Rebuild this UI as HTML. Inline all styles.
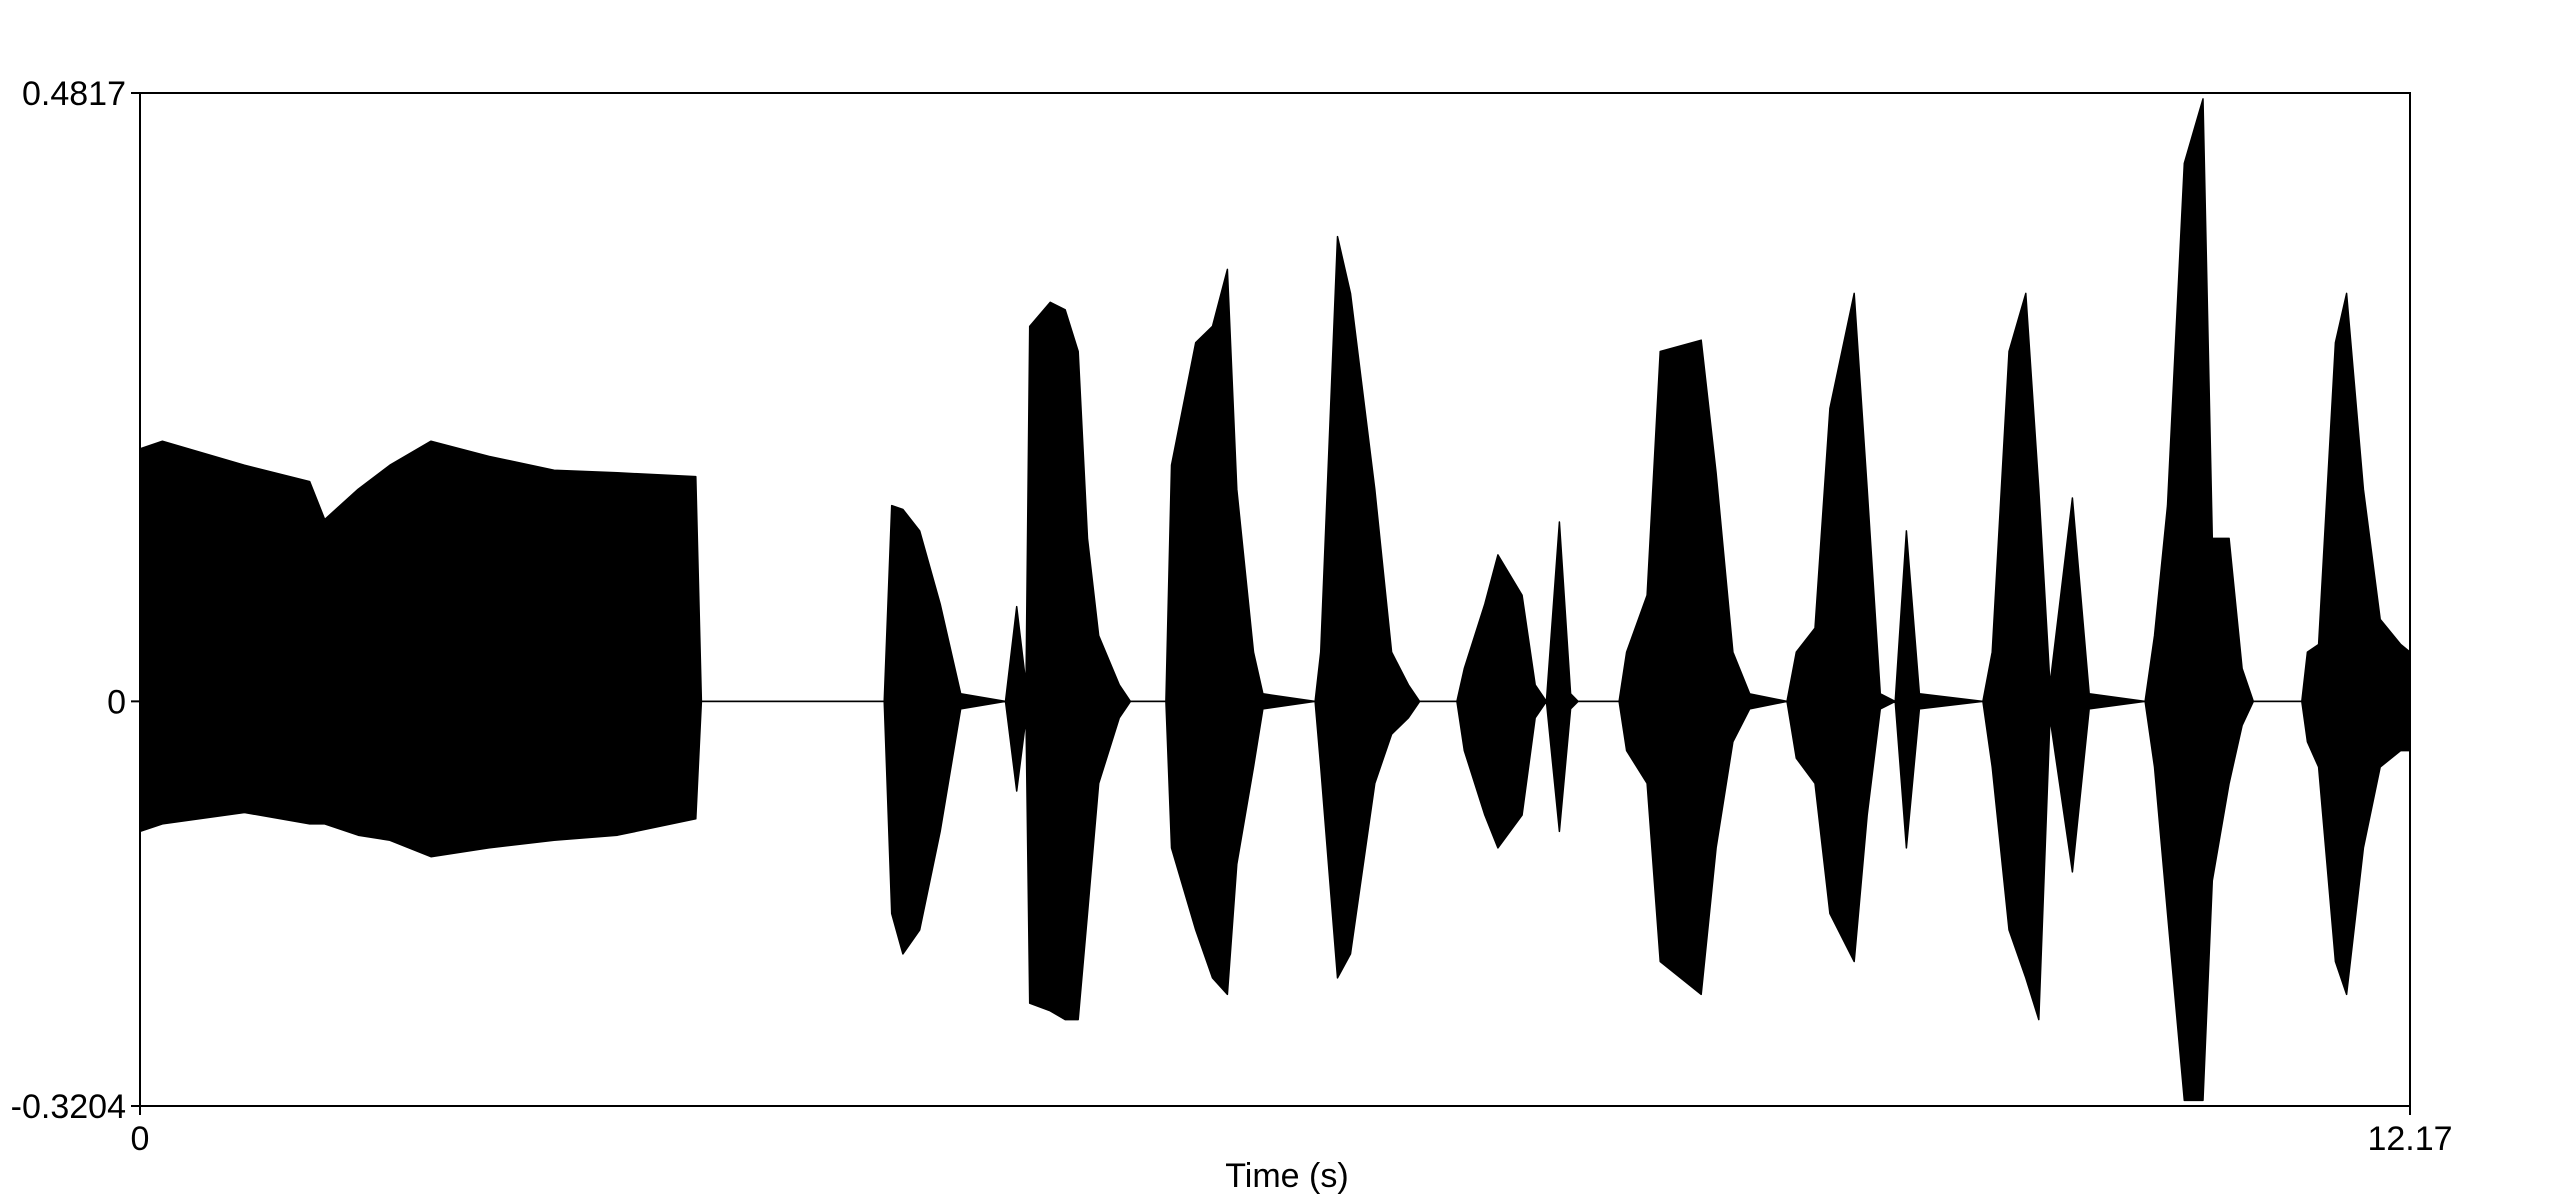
<!DOCTYPE html>
<html><head><meta charset="utf-8"><style>
html,body{margin:0;padding:0;background:#fff;}
svg{display:block;font-family:"Liberation Sans",Arial,sans-serif;}
</style></head><body>
<svg id="chart" width="2550" height="1200" xmlns="http://www.w3.org/2000/svg"></svg>
<script>
const times=[0,0.12,0.56,0.91,0.99,1.17,1.34,1.56,1.87,2.22,2.56,2.98,3.01,3.99,4.03,4.09,4.18,4.29,4.40,4.64,4.70,4.75,4.77,4.88,4.96,5.03,5.08,5.14,5.25,5.31,5.50,5.53,5.66,5.75,5.83,5.88,5.97,6.02,6.30,6.33,6.42,6.49,6.62,6.71,6.80,6.86,7.06,7.10,7.21,7.28,7.41,7.48,7.54,7.61,7.67,7.71,7.93,7.97,8.08,8.15,8.37,8.45,8.54,8.63,8.83,8.88,8.98,9.06,9.19,9.26,9.33,9.41,9.47,9.54,9.88,9.93,10.02,10.11,10.18,10.24,10.36,10.45,10.75,10.80,10.87,10.96,11.06,11.11,11.20,11.27,11.33,11.59,11.62,11.68,11.77,11.83,11.92,12.01,12.12,12.17];
const upper=[.200,.206,.187,.174,.144,.168,.187,.206,.194,.183,.181,.178,0,0,.155,.152,.135,.077,.006,0,.075,.013,.297,.316,.310,.277,.129,.052,.013,0,0,.187,.284,.297,.342,.168,.039,.006,0,.039,.368,.323,.168,.039,.013,0,0,.026,.077,.116,.084,.013,0,.142,.006,0,0,.039,.084,.277,.286,.181,.039,.006,0,.039,.058,.232,.323,.168,.006,0,.135,.006,0,.039,.277,.323,.168,.013,.161,.006,0,.052,.155,.426,.477,.129,.129,.026,0,0,.039,.045,.284,.323,.168,.065,.045,.039];
const lower=[-.103,-.097,-.088,-.097,-.097,-.106,-.110,-.123,-.116,-.110,-.106,-.093,0,0,-.168,-.200,-.181,-.103,-.006,0,-.071,-.013,-.239,-.245,-.252,-.252,-.168,-.065,-.013,0,0,-.116,-.181,-.219,-.232,-.129,-.052,-.006,0,-.052,-.219,-.200,-.065,-.026,-.013,0,0,-.039,-.090,-.116,-.090,-.013,0,-.103,-.006,0,0,-.039,-.065,-.206,-.232,-.116,-.032,-.006,0,-.045,-.065,-.168,-.206,-.090,-.006,0,-.116,-.006,0,-.052,-.181,-.219,-.252,-.013,-.135,-.006,0,-.052,-.168,-.316,-.316,-.142,-.065,-.019,0,0,-.032,-.052,-.206,-.232,-.116,-.052,-.039,-.039];
const yTicks=[0.4817,0,-0.3204];
const yTickLabels=["0.4817","0","-0.3204"];
const xTicks=[0,12.17];
const xTickLabels=["0","12.17"];
const X0=140,X1=2410,Y0=93,Y1=1106,TMAX=12.17,AMAX=0.4817,AMIN=-0.3204;
const xs=t=>X0+t/TMAX*(X1-X0);
const ys=a=>Y0+(AMAX-a)/(AMAX-AMIN)*(Y1-Y0);
const svg=document.getElementById('chart');
const NS='http://www.w3.org/2000/svg';
function mk(tag,attrs){const e=document.createElementNS(NS,tag);for(const k in attrs)e.setAttribute(k,attrs[k]);svg.appendChild(e);return e;}
const base=mk('line',{x1:X0,x2:X1,y1:ys(0),y2:ys(0),stroke:'#000','stroke-width':1.5});


let pts=[];
for(let i=0;i<times.length;i++)pts.push(xs(times[i]).toFixed(1)+','+ys(upper[i]).toFixed(1));
for(let i=times.length-1;i>=0;i--)pts.push(xs(times[i]).toFixed(1)+','+ys(lower[i]).toFixed(1));
const wave=mk('polygon',{points:pts.join(' '),fill:'#000',stroke:'#000','stroke-width':1.5,'stroke-linejoin':'round'});


const frame=mk('rect',{x:X0,y:Y0,width:X1-X0,height:Y1-Y0,fill:'none',stroke:'#000','stroke-width':2});


yTicks.forEach((v,i)=>{
  const y=ys(v);
  const tk=mk('line',{x1:X0-9,x2:X0,y1:y,y2:y,stroke:'#000','stroke-width':2});
  
  
  const tx=mk('text',{x:X0-14,y:y+12,'text-anchor':'end','font-size':34});
  tx.textContent=yTickLabels[i];
  
  
});
xTicks.forEach((v,i)=>{
  const x=xs(v);
  const tk=mk('line',{x1:x,x2:x,y1:Y1,y2:Y1+9,stroke:'#000','stroke-width':2});
  
  
  const tx=mk('text',{x:x,y:Y1+44,'text-anchor':'middle','font-size':34});
  tx.textContent=xTickLabels[i];
  
  
});
const xt=mk('text',{x:(X0+X1)/2+12,y:1187,'text-anchor':'middle','font-size':34});
xt.textContent='Time (s)';


</script>
</body></html>
